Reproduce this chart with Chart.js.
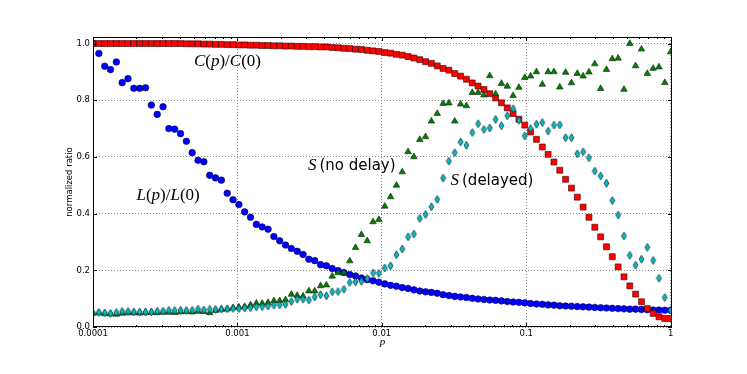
<!DOCTYPE html>
<html>
<head>
<meta charset="utf-8">
<script src="https://cdn.jsdelivr.net/npm/chart.js@4.4.0/dist/chart.umd.min.js"></script>
<style>
  html, body { margin: 0; padding: 0; background: #fff; }
  #wrap { width: 747px; height: 374px; }
</style>
</head>
<body>
<div id="wrap"><canvas id="chart" width="747" height="374"></canvas></div>
<script>
// sampled p values (log spaced, 1e-4 .. 1)
var pValues = [
  1.000e-4, 1.098e-4, 1.205e-4, 1.322e-4, 1.451e-4, 1.592e-4, 1.748e-4, 1.918e-4, 2.105e-4, 2.310e-4,
  2.535e-4, 2.783e-4, 3.054e-4, 3.352e-4, 3.678e-4, 4.037e-4, 4.431e-4, 4.863e-4, 5.337e-4, 5.857e-4,
  6.428e-4, 7.055e-4, 7.743e-4, 8.498e-4, 9.326e-4,
  1.024e-3, 1.123e-3, 1.233e-3, 1.353e-3, 1.485e-3, 1.630e-3, 1.789e-3, 1.963e-3, 2.154e-3, 2.364e-3,
  2.595e-3, 2.848e-3, 3.126e-3, 3.430e-3, 3.765e-3, 4.132e-3, 4.535e-3, 4.977e-3, 5.462e-3, 5.995e-3,
  6.579e-3, 7.221e-3, 7.925e-3, 8.698e-3, 9.546e-3,
  1.048e-2, 1.150e-2, 1.262e-2, 1.385e-2, 1.520e-2, 1.668e-2, 1.831e-2, 2.009e-2, 2.205e-2, 2.420e-2,
  2.656e-2, 2.915e-2, 3.199e-2, 3.511e-2, 3.854e-2, 4.229e-2, 4.642e-2, 5.094e-2, 5.591e-2, 6.136e-2,
  6.734e-2, 7.391e-2, 8.111e-2, 8.902e-2, 9.770e-2,
  1.072e-1, 1.177e-1, 1.292e-1, 1.417e-1, 1.556e-1, 1.707e-1, 1.874e-1, 2.057e-1, 2.257e-1, 2.477e-1,
  2.719e-1, 2.984e-1, 3.275e-1, 3.594e-1, 3.944e-1, 4.329e-1, 4.751e-1, 5.214e-1, 5.722e-1, 6.280e-1,
  6.893e-1, 7.565e-1, 8.302e-1, 9.112e-1, 1.0
];

// C(p)/C(0), red squares
var costRatio = [
  1.000, 1.000, 1.000, 1.000, 1.000, 1.000, 1.000, 1.000, 1.000, 1.000,
  1.000, 1.000, 1.000, 1.000, 1.000, 1.000, 0.999, 0.999, 0.999, 0.998,
  0.998, 0.997, 0.997, 0.996, 0.996, 0.995, 0.995, 0.994, 0.994, 0.993,
  0.993, 0.992, 0.992, 0.991, 0.991, 0.990, 0.990, 0.989, 0.989, 0.988,
  0.988, 0.986, 0.985, 0.983, 0.982, 0.980, 0.979, 0.976, 0.974, 0.972,
  0.968, 0.966, 0.962, 0.959, 0.954, 0.949, 0.943, 0.936, 0.930, 0.921,
  0.912, 0.906, 0.894, 0.885, 0.874, 0.861, 0.850, 0.838, 0.823, 0.808,
  0.791, 0.773, 0.753, 0.733, 0.712, 0.688, 0.662, 0.635, 0.609, 0.582,
  0.553, 0.521, 0.490, 0.458, 0.423, 0.387, 0.352, 0.318, 0.283, 0.248,
  0.212, 0.177, 0.145, 0.116, 0.089, 0.065, 0.048, 0.036, 0.030, 0.030
];

// L(p)/L(0), blue circles
var lengthRatio = [
  1.000, 0.965, 0.920, 0.908, 0.935, 0.862, 0.876, 0.842, 0.842, 0.844,
  0.783, 0.750, 0.777, 0.700, 0.698, 0.682, 0.655, 0.615, 0.588, 0.583,
  0.535, 0.526, 0.518, 0.472, 0.449, 0.432, 0.406, 0.387, 0.362, 0.353,
  0.345, 0.319, 0.304, 0.289, 0.277, 0.267, 0.256, 0.239, 0.234, 0.220,
  0.216, 0.206, 0.199, 0.192, 0.185, 0.180, 0.173, 0.167, 0.163, 0.158,
  0.152, 0.147, 0.144, 0.139, 0.136, 0.131, 0.127, 0.124, 0.122, 0.119,
  0.114, 0.111, 0.108, 0.106, 0.104, 0.101, 0.099, 0.097, 0.095, 0.094,
  0.092, 0.090, 0.088, 0.087, 0.085, 0.083, 0.081, 0.080, 0.078, 0.077,
  0.075, 0.074, 0.073, 0.072, 0.071, 0.070, 0.069, 0.068, 0.067, 0.066,
  0.065, 0.064, 0.063, 0.063, 0.062, 0.061, 0.060, 0.060, 0.059, 0.059
];

// S (no delay), green triangles
var syncNoDelay = [
  0.048, 0.050, 0.047, 0.046, 0.045, 0.048, 0.050, 0.050, 0.049, 0.050,
  0.051, 0.050, 0.052, 0.052, 0.051, 0.053, 0.054, 0.053, 0.055, 0.054,
  0.050, 0.058, 0.062, 0.063, 0.068, 0.070, 0.072, 0.078, 0.084, 0.083,
  0.086, 0.092, 0.092, 0.096, 0.115, 0.111, 0.109, 0.127, 0.127, 0.145,
  0.148, 0.179, 0.191, 0.191, 0.233, 0.280, 0.326, 0.304, 0.371, 0.379,
  0.426, 0.459, 0.500, 0.547, 0.618, 0.600, 0.661, 0.671, 0.726, 0.753,
  0.788, 0.790, 0.726, 0.786, 0.780, 0.827, 0.827, 0.818, 0.886, 0.822,
  0.859, 0.849, 0.816, 0.845, 0.880, 0.885, 0.900, 0.856, 0.900, 0.900,
  0.846, 0.898, 0.861, 0.894, 0.885, 0.899, 0.928, 0.841, 0.908, 0.946,
  0.948, 0.838, 1.000, 0.921, 0.980, 0.894, 0.912, 0.917, 0.862, 0.970
];

// S (delayed), cyan diamonds
var syncDelayed = [
  0.049, 0.051, 0.050, 0.048, 0.051, 0.055, 0.055, 0.053, 0.053, 0.053,
  0.053, 0.056, 0.056, 0.059, 0.058, 0.059, 0.058, 0.059, 0.063, 0.060,
  0.062, 0.062, 0.063, 0.064, 0.065, 0.065, 0.067, 0.068, 0.071, 0.072,
  0.074, 0.077, 0.078, 0.080, 0.090, 0.098, 0.098, 0.095, 0.106, 0.114,
  0.110, 0.124, 0.125, 0.133, 0.157, 0.159, 0.161, 0.171, 0.191, 0.189,
  0.208, 0.216, 0.255, 0.275, 0.318, 0.328, 0.383, 0.397, 0.424, 0.450,
  0.525, 0.585, 0.615, 0.653, 0.641, 0.686, 0.717, 0.697, 0.702, 0.732,
  0.710, 0.745, 0.770, 0.729, 0.674, 0.700, 0.715, 0.721, 0.691, 0.712,
  0.713, 0.668, 0.668, 0.611, 0.618, 0.597, 0.550, 0.533, 0.507, 0.446,
  0.395, 0.321, 0.253, 0.218, 0.239, 0.281, 0.235, 0.172, 0.104, 0.059
];

var xTicks = [0.0001, 0.001, 0.01, 0.1, 1];
var xTickLabels = ["0.0001", "0.001", "0.01", "0.1", "1"];
var yTicks = [0, 0.2, 0.4, 0.6, 0.8, 1.0];
var yTickLabels = ["0.0", "0.2", "0.4", "0.6", "0.8", "1.0"];

// text labels placed in data coordinates (left edge, baseline)
var notes = [
  { p: 0.0005, y: 0.920, parts: [["C", "m"], ["(", "r"], ["p", "m"], [")/", "r"], ["C", "m"], ["(0)", "r"]] },
  { p: 0.0002, y: 0.447, parts: [["L", "m"], ["(", "r"], ["p", "m"], [")/", "r"], ["L", "m"], ["(0)", "r"]] },
  { p: 0.00308, y: 0.553, parts: [["S", "m"], ["(no delay)", "s"]] },
  { p: 0.0299, y: 0.500, parts: [["S", "m"], ["(delayed)", "s"]] }
];

var fonts = {
  m: "italic 17px 'Liberation Serif', serif",
  r: "17px 'Liberation Serif', serif",
  s: "15px 'DejaVu Sans', sans-serif"
};
var tickFont = { family: "'DejaVu Sans', sans-serif", size: 8.5 };

function toPoints(values) {
  return values.map(function (v, i) {
    return { x: pValues[i], y: v };
  });
}

function thinDiamond(w, h, fill) {
  var c = document.createElement("canvas");
  c.width = w + 2;
  c.height = h + 2;
  var g = c.getContext("2d");
  g.beginPath();
  g.moveTo(c.width / 2, 1);
  g.lineTo(c.width - 1, c.height / 2);
  g.lineTo(c.width / 2, c.height - 1);
  g.lineTo(1, c.height / 2);
  g.closePath();
  g.fillStyle = fill;
  g.fill();
  g.lineWidth = 0.7;
  g.strokeStyle = "#123";
  g.stroke();
  return c;
}

var decorations = {
  id: "decorations",
  afterDatasetsDraw: function (chart) {
    var ctx = chart.ctx;
    var a = chart.chartArea;
    var xs = chart.scales.x;
    var ys = chart.scales.y;
    ctx.save();
    ctx.strokeStyle = "#000";
    ctx.lineWidth = 1;
    ctx.strokeRect(Math.round(a.left) + 0.5, Math.round(a.top) + 0.5,
      Math.round(a.right - a.left) - 1, Math.round(a.bottom - a.top) - 1);

    // inward tick marks
    ctx.beginPath();
    for (var d = -4; d <= 0; d++) {
      for (var m = 1; m <= 9; m++) {
        var v = m * Math.pow(10, d);
        if (v > 1.0001) break;
        var px = Math.round(xs.getPixelForValue(v)) + 0.5;
        var len = m === 1 ? 4 : 2;
        ctx.moveTo(px, a.bottom);
        ctx.lineTo(px, a.bottom - len);
        ctx.moveTo(px, a.top);
        ctx.lineTo(px, a.top + len);
      }
    }
    yTicks.forEach(function (t) {
      var py = Math.round(ys.getPixelForValue(t)) + 0.5;
      ctx.moveTo(a.left, py);
      ctx.lineTo(a.left + 4, py);
      ctx.moveTo(a.right, py);
      ctx.lineTo(a.right - 4, py);
    });
    ctx.stroke();
    ctx.restore();
  },
  afterDraw: function (chart) {
    var ctx = chart.ctx;
    var a = chart.chartArea;
    var xs = chart.scales.x;
    var ys = chart.scales.y;
    ctx.save();
    ctx.fillStyle = "#000";

    // axis titles
    ctx.font = "8.5px 'DejaVu Sans', sans-serif";
    ctx.textAlign = "center";
    ctx.textBaseline = "middle";
    ctx.translate(70, (a.top + a.bottom) / 2);
    ctx.rotate(-Math.PI / 2);
    ctx.fillText("normalized ratio", 0, 0);
    ctx.setTransform(1, 0, 0, 1, 0, 0);
    ctx.font = "italic 11px 'Liberation Serif', serif";
    ctx.textBaseline = "alphabetic";
    ctx.fillText("p", (a.left + a.right) / 2, 344.5);

    // curve labels
    ctx.textAlign = "left";
    notes.forEach(function (n) {
      var x = xs.getPixelForValue(n.p);
      var y = ys.getPixelForValue(n.y);
      n.parts.forEach(function (part) {
        if (part[1] === "s") x += 3;
        ctx.font = fonts[part[1]];
        ctx.fillText(part[0], x, y);
        x += ctx.measureText(part[0]).width;
      });
    });
    ctx.restore();
  }
};

var ctx = document.getElementById("chart");
var chart = new Chart(ctx, {
  type: "scatter",
  data: {
    datasets: [
      {
        label: "S (delayed)",
        data: toPoints(syncDelayed),
        pointStyle: thinDiamond(5, 8, "#00bfbf"),
        order: 0
      },
      {
        label: "S (no delay)",
        data: toPoints(syncNoDelay),
        pointStyle: "triangle",
        pointRadius: 3.8,
        backgroundColor: "#008000",
        borderColor: "#102010",
        borderWidth: 0.6,
        order: 1
      },
      {
        label: "C(p)/C(0)",
        data: toPoints(costRatio),
        pointStyle: "rect",
        pointRadius: 4.2,
        backgroundColor: "#ff0000",
        borderColor: "#3a0000",
        borderWidth: 0.6,
        order: 2
      },
      {
        label: "L(p)/L(0)",
        data: toPoints(lengthRatio),
        pointStyle: "circle",
        pointRadius: 3.3,
        backgroundColor: "#0000ff",
        borderColor: "#000040",
        borderWidth: 0.6,
        order: 3
      }
    ]
  },
  options: {
    responsive: false,
    animation: false,
    events: [],
    layout: { padding: { left: 0, right: 75, top: 37, bottom: 0 } },
    plugins: {
      legend: { display: false },
      tooltip: { enabled: false }
    },
    scales: {
      x: {
        type: "logarithmic",
        min: 0.0001,
        max: 1.022,
        afterBuildTicks: function (axis) {
          axis.ticks = xTicks.map(function (v) { return { value: v }; });
        },
        afterFit: function (axis) { axis.height = 47; },
        ticks: {
          autoSkip: false,
          maxRotation: 0,
          padding: 2,
          color: "#000",
          font: tickFont,
          callback: function (value, index) { return xTickLabels[index]; }
        },
        grid: { color: "#8a8a8a", lineWidth: 1, drawTicks: false },
        border: { display: false, dash: [1, 2] }
      },
      y: {
        type: "linear",
        min: 0,
        max: 1.023,
        afterBuildTicks: function (axis) {
          axis.ticks = yTicks.map(function (v) { return { value: v }; });
        },
        afterFit: function (axis) { axis.width = 93; },
        ticks: {
          autoSkip: false,
          padding: 3,
          color: "#000",
          font: tickFont,
          callback: function (value, index) { return yTickLabels[index]; }
        },
        grid: { color: "#8a8a8a", lineWidth: 1, drawTicks: false },
        border: { display: false, dash: [1, 2] }
      }
    }
  },
  plugins: [decorations]
});
</script>
</body>
</html>
